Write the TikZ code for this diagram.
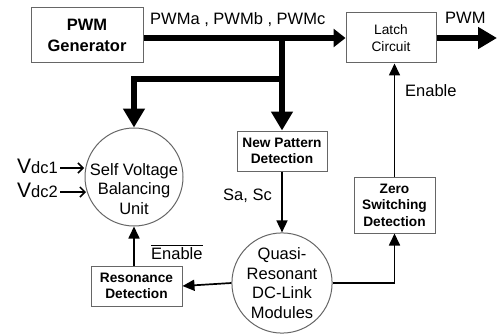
\documentclass[tikz,border=0pt]{standalone}
\usepackage{fontspec}
\setmainfont{Liberation Sans}
\usetikzlibrary{arrows.meta}

\begin{document}
\begin{tikzpicture}[x=1pt,y=-1pt,
  bigtext/.style={font=\fontsize{16.5}{19.7}\selectfont, inner sep=0pt, align=center},
  boxbase/.style={draw=black!60, line width=1pt, inner sep=0pt, align=center},
  boldbox/.style={boxbase, font=\fontsize{13.7}{16.5}\selectfont\bfseries},
  circ/.style={circle, draw=black!60, line width=1pt, inner sep=0pt},
  bus/.style={line width=6pt, line join=miter, -{Triangle[length=19pt,width=21pt]}},
  busshort/.style={line width=6pt, -{Triangle[length=12pt,width=18pt]}},
  sig/.style={line width=1.7pt, -{Triangle[length=12pt,width=11pt]}},
  vin/.style={line width=1.5pt, -{Straight Barb[length=5pt,width=10pt]}}
]
\useasboundingbox (0,0) rectangle (497,334);

% blocks
\node[boxbase, minimum width=112pt, minimum height=55pt,
      font=\fontsize{16.5}{21}\selectfont\bfseries] (gen) at (87,35.5) {PWM\\Generator};
\node[boxbase, minimum width=90pt, minimum height=50pt,
      font=\fontsize{13.7}{17}\selectfont] (latch) at (391,38) {Latch\\Circuit};
\node[boldbox, minimum width=90pt, minimum height=40pt] (newpat) at (282,151) {New Pattern\\Detection};
\node[boldbox, minimum width=81pt, minimum height=56pt] (zero) at (394.5,205) {Zero\\Switching\\Detection};
\node[boldbox, minimum width=91pt, minimum height=40pt] (reso) at (136.5,286) {Resonance\\Detection};

% round units
\node[circ, minimum size=98pt] (self) at (134,177) {};
\node[bigtext] (selftext) at (134,189) {Self Voltage\\Balancing\\Unit};
\node[circ, minimum size=100pt, bigtext, draw=black!60, line width=1pt] (quasi) at (282,283) {Quasi-\\Resonant\\DC-Link\\Modules};

% labels
\node[bigtext, anchor=base west] (lpwm) at (150,24.5) {PWMa , PWMb , PWMc};
\node[bigtext, anchor=base west] (lout) at (445,24) {PWM};
\node[bigtext, anchor=base west] (len) at (405,96) {Enable};
\node[bigtext, anchor=base west] (lenb) at (151,259) {$\overline{\mbox{Enable}}$};
\node[bigtext, anchor=base west] (lsa) at (223,200) {Sa, Sc};
\node[inner sep=0pt, anchor=base east] (vdc1) at (58,173)
  {\fontsize{21}{21}\selectfont V\fontsize{16.5}{19}\selectfont dc1};
\node[inner sep=0pt, anchor=base east] (vdc2) at (58,197)
  {\fontsize{21}{21}\selectfont V\fontsize{16.5}{19}\selectfont dc2};

% bus junctions and output end
\coordinate (j1) at (282,38);
\coordinate (j2) at (282,79);
\coordinate (out) at (497,38);
\coordinate (t1) at (84,168);
\coordinate (t2) at (86,192);

% thick bus lines
\draw[busshort] (gen.east |- latch.west) -- (latch.west);
\draw[bus] (latch.east) -- (out);
\draw[bus] (j1) -- (newpat.north);
\draw[bus] (j2) -- (j2 -| self.north) -- (self.north);

% thin signal lines
\draw[sig] (newpat.south) -- (quasi.north);
\draw[sig] (quasi.west) -- (reso.east);
\draw[sig] (self.south |- reso.north) -- (self.south);
\draw[sig] (quasi.east) -| (zero.south);
\draw[sig] (zero.north) -- (zero.north |- latch.south);

% DC-link voltage inputs
\draw[vin] ([xshift=2pt]vdc1.east |- t1) -- (t1);
\draw[vin] ([xshift=2pt]vdc2.east |- t2) -- (t2);
\end{tikzpicture}
\end{document}
